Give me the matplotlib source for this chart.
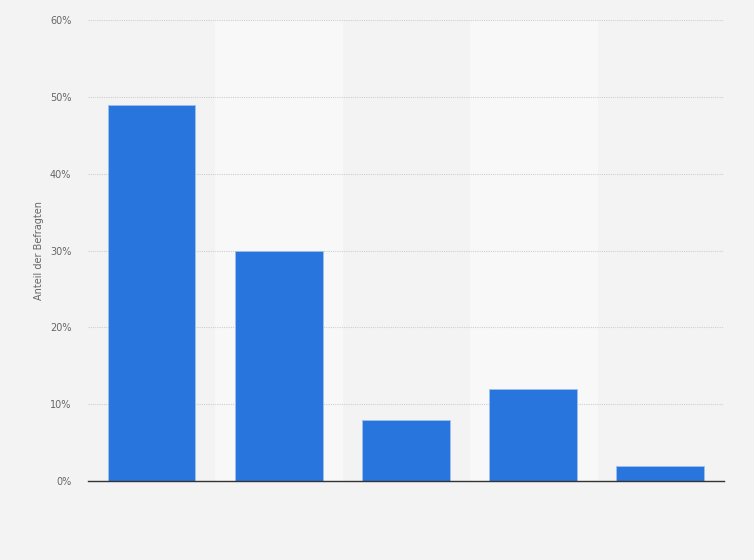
import numpy as np
import matplotlib.pyplot as plt

# survey shares, category labels are not shown in the chart
values = [49, 30, 8, 12, 2]
yticks = [0, 10, 20, 30, 40, 50, 60]
ytick_labels = ["0%", "10%", "20%", "30%", "40%", "50%", "60%"]

fig = plt.figure(figsize=(7.54, 5.6), dpi=100, facecolor="#f3f3f3")
ax = fig.add_axes([0.1167, 0.141, 0.8433, 0.823])
ax.set_facecolor("#f3f3f3")

x = np.arange(len(values))
for i in x:
    if i % 2 == 1:
        ax.axvspan(i - 0.5, i + 0.5, color="#f8f8f8", zorder=0)

ax.bar(x, values, width=0.69, color="#2876dd", edgecolor="#9fc0ee", linewidth=0.6, zorder=3)

ax.set_xlim(-0.5, len(values) - 0.5)
ax.set_ylim(0, 60)
ax.set_yticks(yticks)
ax.set_yticklabels(ytick_labels, fontsize=7, color="#666666")
ax.set_xticks([])
ax.tick_params(axis="y", length=0, pad=12)
ax.grid(axis="y", color="#cfcfcf", linestyle=(0, (1, 1)), linewidth=0.8, zorder=1)
for s in ["top", "right", "left"]:
    ax.spines[s].set_visible(False)
ax.spines["bottom"].set_color("#333333")
ax.spines["bottom"].set_linewidth(1.0)
ax.spines["bottom"].set_zorder(4)

ax.set_ylabel("Anteil der Befragten", fontsize=7, color="#666666", labelpad=4)

fig.savefig("out.png", dpi=100, facecolor=fig.get_facecolor())
